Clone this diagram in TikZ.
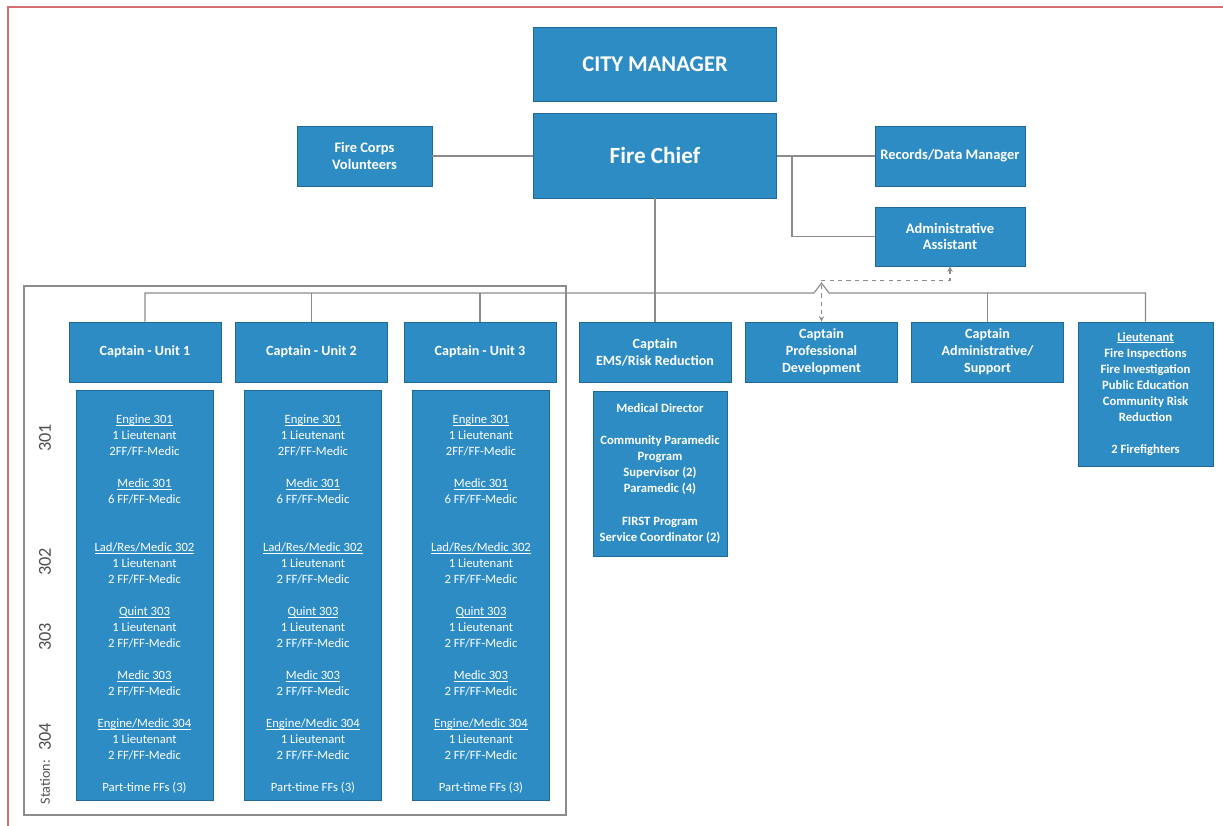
\documentclass[tikz,border=0pt]{standalone}
\usepackage{fontspec}
\setmainfont{Carlito}
\usetikzlibrary{shapes.geometric, arrows, shadows}

\definecolor{boxblue}{RGB}{46,140,197}
\definecolor{boxedge}{RGB}{33,104,150}
\definecolor{linegray}{RGB}{140,140,140}
\definecolor{framered}{RGB}{214,110,112}
\definecolor{stationgray}{RGB}{80,80,80}

\tikzstyle{orgbox} = [
    rectangle,
    fill=boxblue,
    draw=boxedge,
    line width=0.4pt,
    text=white,
    align=center,
    inner sep=2pt,
    drop shadow={opacity=0.25, shadow xshift=0.6pt, shadow yshift=-0.8pt}
]
\tikzstyle{topbox} = [
    orgbox,
    minimum width=6.075cm,
    font=\bfseries\fontsize{16}{19}\selectfont
]
\tikzstyle{sidebox} = [
    orgbox,
    minimum height=1.5cm,
    font=\bfseries\fontsize{10.3}{12}\selectfont
]
\tikzstyle{captain} = [
    orgbox,
    minimum width=3.8cm,
    minimum height=1.5cm,
    font=\bfseries\fontsize{10}{12.1}\selectfont
]
\tikzstyle{listbox} = [
    orgbox,
    font=\bfseries\fontsize{9}{11.38}\selectfont
]
\tikzstyle{crewbox} = [
    orgbox,
    minimum width=3.425cm,
    minimum height=10.25cm
]
\tikzstyle{crewtext} = [
    text=white,
    align=center,
    inner sep=0pt,
    font=\fontsize{9}{11.38}\selectfont
]
\tikzstyle{station} = [
    rotate=90,
    text=stationgray,
    font=\fontsize{13}{15}\selectfont
]
\tikzstyle{line} = [draw=linegray, line width=0.8pt]
\tikzstyle{arrow} = [line, dashed, <->, >=stealth]

% tight underline for the unit names
\newlength{\namewd}
\newcommand{\unitname}[1]{\settowidth{\namewd}{#1}%
\rlap{\rule[-1.1pt]{\namewd}{0.35pt}}#1}

\newcommand{\crewlist}{%
\unitname{Engine 301}\\ 1 Lieutenant\\ 2FF/FF-Medic\\[11.38pt]
\unitname{Medic 301}\\ 6 FF/FF-Medic\\[22.76pt]
\unitname{Lad/Res/Medic 302}\\ 1 Lieutenant\\ 2 FF/FF-Medic\\[11.38pt]
\unitname{Quint 303}\\ 1 Lieutenant\\ 2 FF/FF-Medic\\[11.38pt]
\unitname{Medic 303}\\ 2 FF/FF-Medic\\[11.38pt]
\unitname{Engine/Medic 304}\\ 1 Lieutenant\\ 2 FF/FF-Medic\\[11.38pt]
Part-time FFs (3)}

\begin{document}
\begin{tikzpicture}[x=0.025cm, y=-0.025cm]

\useasboundingbox (0,0) rectangle (1223,825);
\draw [framered, line width=1pt] (8,7) rectangle (1240,845);

% station frame
\draw [linegray, line width=0.8pt] (24,286) rectangle (566,815);

% top
\node (manager) [topbox, minimum height=1.85cm] at (655,64) {CITY MANAGER};
\node (chief) [topbox, minimum height=2.125cm,
    font=\bfseries\fontsize{16.5}{19}\selectfont] at (655,155.5) {Fire Chief};
\node (corps) [sidebox, minimum width=3.375cm] at (364.5,156)
{Fire Corps\\Volunteers};
\node (records) [sidebox, minimum width=3.75cm] at (950,156)
{Records/Data Manager};
\node (assist) [sidebox, minimum width=3.75cm, minimum height=1.475cm] at (950,236.5)
{Administrative\\Assistant};

% captains
\node (unit1) [captain] at (145,352) {Captain - Unit 1};
\node (unit2) [captain] at (311.5,352) {Captain - Unit 2};
\node (unit3) [captain] at (480,352) {Captain - Unit 3};
\node (ems) [captain] at (655,352) {Captain\\EMS/Risk Reduction};
\node (profdev) [captain] at (821.5,352) {Captain\\Professional\\Development};
\node (support) [captain] at (987.5,352) {Captain\\Administrative/\\Support};
\node (lieut) [listbox, minimum width=3.375cm, minimum height=3.6cm] at (1145.5,394)
{\unitname{Lieutenant}\\ Fire Inspections\\ Fire Investigation\\ Public Education\\
Community Risk\\ Reduction\\[11.38pt] 2 Firefighters};

% EMS staff
\node (medical) [listbox, minimum width=3.35cm, minimum height=4.125cm] at (660,473.5)
{Medical Director\\[11.38pt] Community Paramedic\\ Program\\ Supervisor (2)\\
Paramedic (4)\\[11.38pt] FIRST Program\\ Service Coordinator (2)};

% unit crews
\node (crew1) [crewbox] at (144.5,595) {};
\node (crew2) [crewbox] at (313,595) {};
\node (crew3) [crewbox] at (481,595) {};
\node (list1) [crewtext, anchor=north, yshift=-0.62cm] at (crew1.north) {\crewlist};
\node (list2) [crewtext, anchor=north, yshift=-0.62cm] at (crew2.north) {\crewlist};
\node (list3) [crewtext, anchor=north, yshift=-0.62cm] at (crew3.north) {\crewlist};

% stations
\node (st301) [station] at (45,438) {301};
\node (st302) [station] at (45,562) {302};
\node (st303) [station] at (45,637) {303};
\node (st304) [station] at (45,737) {304};
\node (stlabel) [station, font=\fontsize{10}{12}\selectfont] at (45,782) {Station:};

% connectors
\coordinate (bus) at (0,293);
\coordinate (fork) at (792,156);
\draw [line] (corps.east) -- (corps.east -| chief.west);
\draw [line] (chief.east |- records.west) -- (records.west);
\draw [line] (fork) |- (assist.west);
\draw [line] (chief.south) -- (ems.north);
\draw [line] (unit1.north) -- (unit1.north |- bus) -- (814,293) -- (821.5,283)
    -- (829,293) -- (lieut.north |- bus) -- (lieut.north);
\draw [line] (unit2.north) -- (unit2.north |- bus);
\draw [line] (unit3.north) -- (unit3.north |- bus);
\draw [line] (support.north) -- (support.north |- bus);
\draw [arrow] (assist.south) -- ++(0,14) -| (profdev.north);

\end{tikzpicture}
\end{document}
